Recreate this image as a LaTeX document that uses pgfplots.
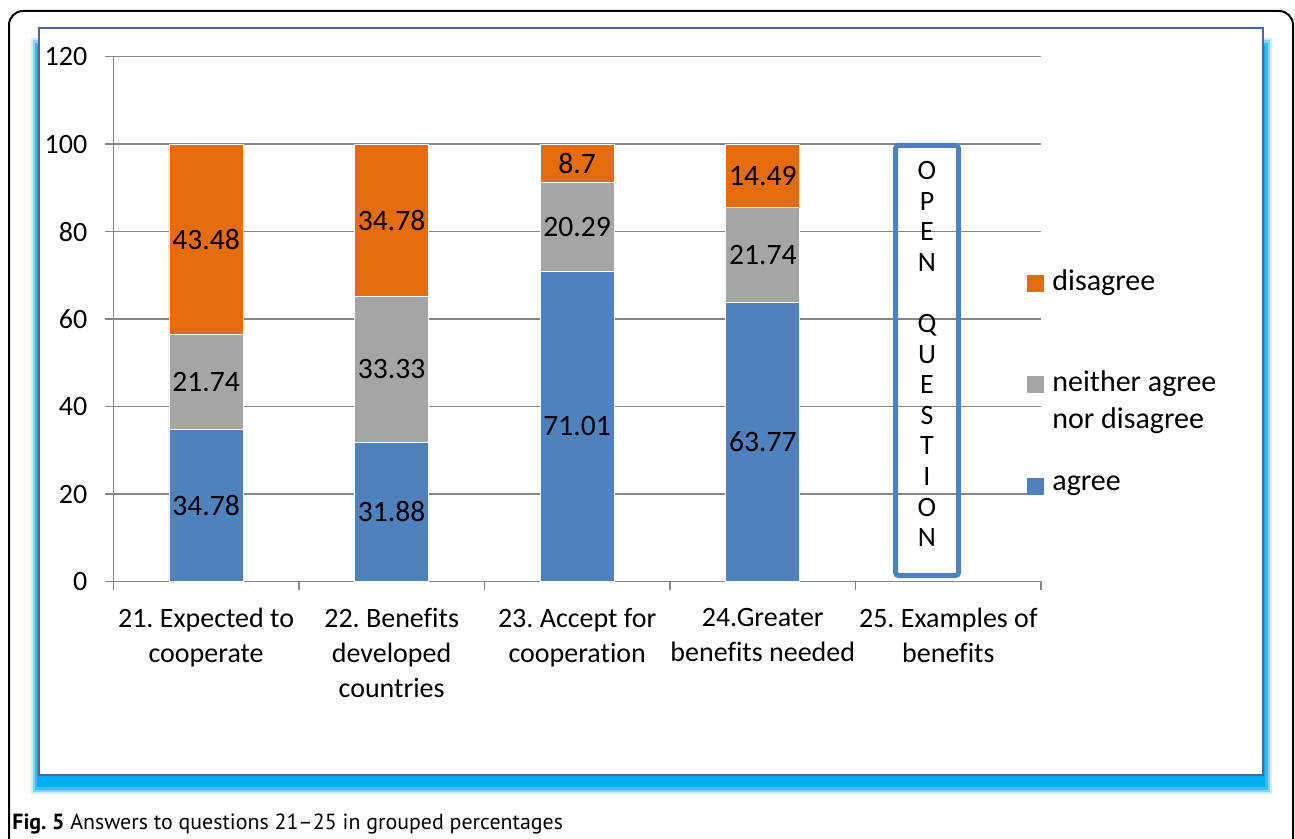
\documentclass[border=0pt]{standalone}
\usepackage{fontspec}
\setmainfont{Carlito}[Ligatures=NoCommon]
\newfontfamily\capfont{PT Sans}
\usepackage{pgfplots}
\pgfplotsset{compat=1.18}
\usepackage{pgfplotstable}
\frenchspacing

\definecolor{dis}{RGB}{228,108,10}
\definecolor{neu}{RGB}{165,165,165}
\definecolor{agr}{RGB}{79,129,189}
\definecolor{gridc}{RGB}{134,134,134}
\definecolor{glow}{RGB}{0,174,239}
\definecolor{frameblue}{RGB}{70,104,166}

% grouped answers (percent) per question
\pgfplotstableread{
cat agree neither disagree
1 34.78 21.74 43.48
2 31.88 33.33 34.78
3 71.01 20.29 8.7
4 63.77 21.74 14.49
}\answers

% one stacked segment with its value written in its middle
\pgfplotsset{
  segment/.style={
    fill=#1, draw=white, line width=0.4pt,
    point meta=explicit,
    nodes near coords,
    every node near coord/.append style={anchor=center, inner sep=0pt,
      font=\fontsize{14.8}{17}\selectfont, text=black,
      /pgf/number format/assume math mode=true},
  },
}

\begin{document}
\begin{tikzpicture}
% page-sized frame, drawn in a top-down grid of half points
\begin{scope}[x=0.5pt,y=-0.5pt,yshift=419.5pt]
\useasboundingbox (0,0) rectangle (1295,839);

% outer rounded frame
\draw[line width=1pt, rounded corners=7pt] (9,900) |- (1293,11) -- (1293,900);

% cyan glow behind the chart area
\fill[glow!20] (31,38) rectangle (1272,794);
\fill[glow!50] (33,40) rectangle (1270,792);
\fill[glow!80] (35,43) rectangle (1268,790);
\fill[glow] (37,46) rectangle (1265,787);
\filldraw[fill=white, draw=frameblue, line width=0.8pt] (39,28) rectangle (1263,775);
\end{scope}

\begin{axis}[
  at={(56.65pt,128.75pt)}, anchor=south west,
  scale only axis, width=463.9pt, height=262.4pt,
  ybar stacked, bar width=0.4,
  xmin=0.5, xmax=5.5, ymin=0, ymax=120,
  enlargelimits=false,
  axis lines*=left,
  axis line style={draw=gridc, line width=0.75pt},
  ytick={0,20,...,120},
  ymajorgrids, grid style={draw=gridc, line width=0.75pt},
  xtick={0.5,1.5,...,5.5}, xticklabels={{},{},{},{},{},{}},
  extra x ticks={1,2,3,4,5},
  extra x tick labels={21. Expected to\\cooperate,22. Benefits\\developed\\countries,23. Accept for\\cooperation,24.Greater\\benefits needed,25. Examples of\\benefits},
  extra x tick style={major tick length=0pt, grid=none},
  tick align=outside, major tick length=4.3pt,
  tick style={draw=gridc, line width=0.75pt},
  xticklabel style={align=center, inner sep=0pt, yshift=-13pt,
    font=\fontsize{14}{17.5}\selectfont},
  yticklabel style={inner sep=0pt, xshift=-8.5pt, font=\fontsize{14}{17}\selectfont},
  /pgf/number format/assume math mode=true,
  clip=false,
]
\addplot[segment=agr] table[x=cat,y=agree,meta=agree]{\answers};
\addplot[segment=neu] table[x=cat,y=neither,meta=neither]{\answers};
\addplot[segment=dis] table[x=cat,y=disagree,meta=disagree]{\answers};

% the open question has no grouped answers
\draw[agr, line width=2.5pt, rounded corners=1.5pt]
  (axis cs:4.716,1.37) rectangle (axis cs:5.055,99.7);
\node[align=center, inner sep=0pt, font=\fontsize{14}{15.3}\selectfont]
  at (axis cs:4.885,52) {O\\P\\E\\N\\\mbox{}\\Q\\U\\E\\S\\T\\I\\O\\N};
\end{axis}

\begin{scope}[x=0.5pt,y=-0.5pt,yshift=419.5pt]
% legend
\begin{scope}[every node/.style={anchor=west, inner sep=0pt, font=\fontsize{15}{18.5}\selectfont}]
\fill[dis] (1027,275) rectangle (1044,292);
\node at (1052,283) {disagree};
\fill[neu] (1027,376) rectangle (1044,393);
\node[align=left] at (1052,402.5) {neither agree\\nor disagree};
\fill[agr] (1027,478) rectangle (1044,495);
\node at (1052,486) {agree};
\end{scope}

% caption
\node[anchor=west, inner sep=0pt, font=\capfont\fontsize{10.95}{13}\selectfont]
  at (12,824) {\textbf{Fig. 5} Answers to questions 21–25 in grouped percentages};
\end{scope}
\end{tikzpicture}
\end{document}
